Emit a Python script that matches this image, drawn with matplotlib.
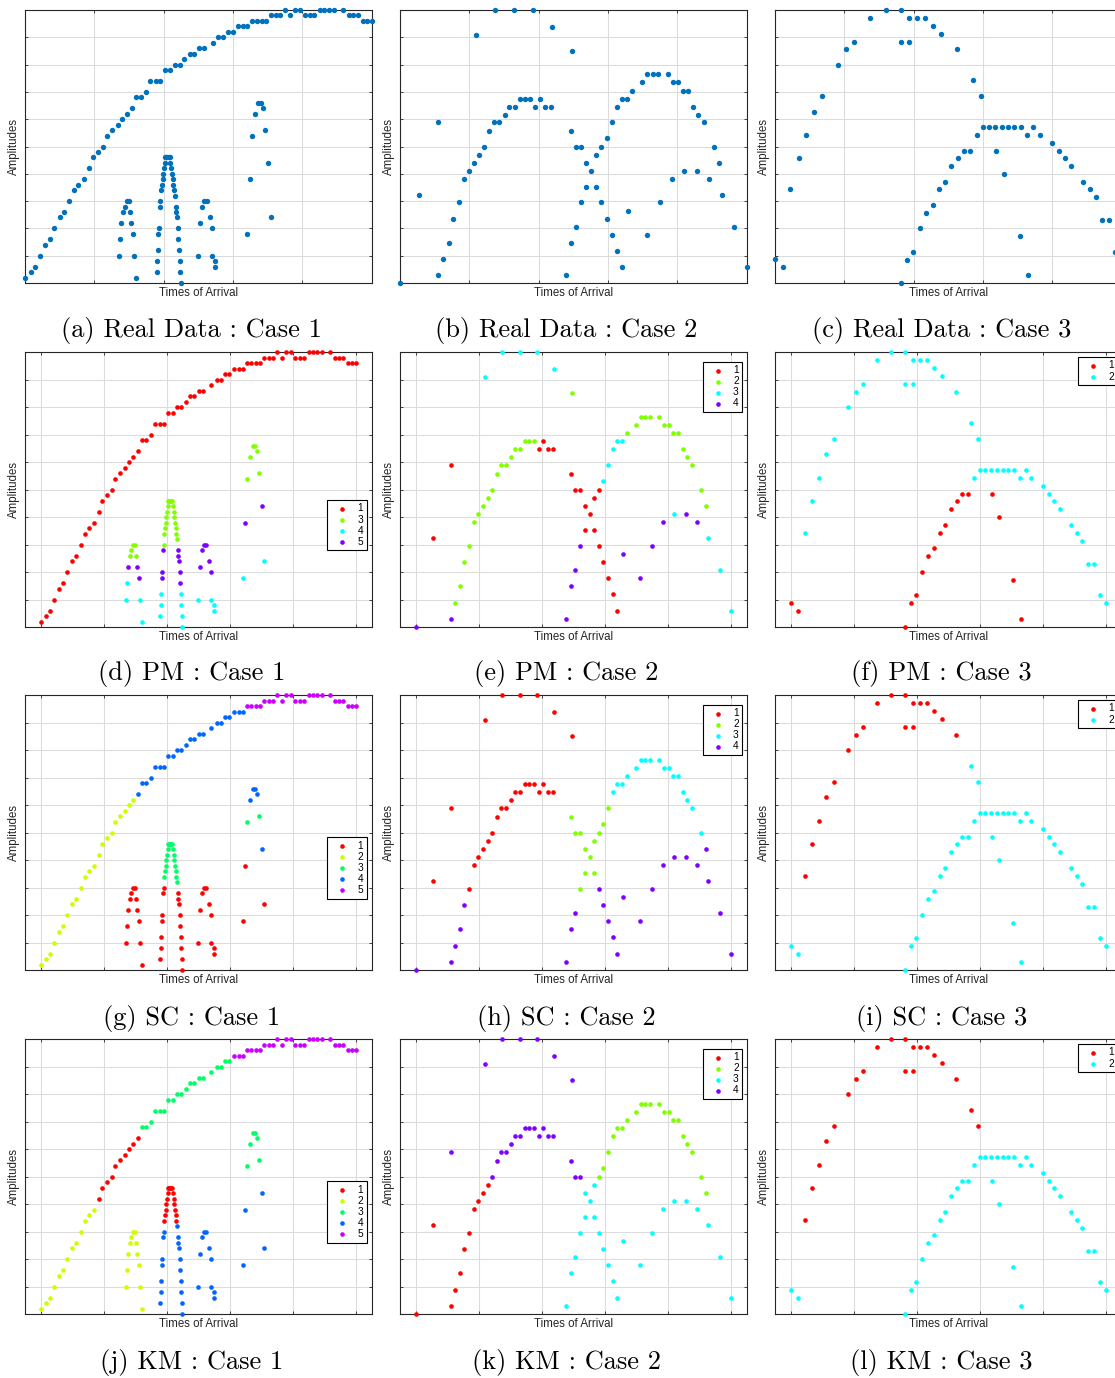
import colorsys
import matplotlib
matplotlib.use("Agg")
import matplotlib.pyplot as plt

# ---------------- data (x: times of arrival, y: amplitude, both in % of range) ----------------
# case 1: main arc, left group, central spike, middle group, right group
x1 = [0, 1.7, 3.0, 4.2, 5.9, 7.2, 8.4, 10.0, 11.3, 12.7, 14.2, 15.4, 16.9, 18.4, 19.6, 21.0,
      22.6, 23.7, 25.1, 26.7, 28.0, 29.3, 30.8, 32.1, 33.4, 35.0, 36.2, 37.7, 39.1, 40.5, 41.9,
      43.4, 44.6, 46.0, 47.5, 48.7, 50.1, 51.6, 54.2, 55.8, 57.1, 58.5, 59.9, 61.4, 62.8, 64.2,
      65.4, 66.9, 68.4, 69.6, 70.9, 72.4, 73.7, 75.1, 76.6, 77.8, 79.4, 80.8, 82.2, 83.5, 85.0,
      86.4, 87.8, 89.2, 91.8, 93.4, 94.6, 96.1, 97.5, 98.7, 100,
      27.0, 27.4, 27.8, 28.3, 28.8, 29.3, 29.9, 30.3, 30.7, 31.1, 31.5, 32.0,
      38.0, 38.2, 38.3, 38.4, 38.6, 38.9, 39.0, 39.2, 39.5, 39.7, 39.9, 40.1, 40.3,
      40.5, 40.8, 41.1, 41.5, 41.8,
      41.9, 42.2, 42.4, 42.6, 42.8, 43.0, 43.2, 43.6, 43.7, 43.9, 44.1, 44.2, 44.4, 44.6, 44.7, 44.9,
      49.8, 50.4, 51.2, 51.8, 52.6, 53.4, 54.1, 54.1, 54.9, 54.9,
      64.2, 64.9, 65.6, 66.5, 67.3, 68.0, 68.7, 69.4, 70.1, 70.9]
y1 = [2, 4, 6, 10, 14, 16, 20, 24, 26, 30, 34, 36, 38, 42, 46, 48, 50, 54, 56, 58, 60, 62, 64,
      68, 68, 70, 74, 74, 74, 78, 78, 80, 80, 82, 84, 84, 86, 86, 88, 90, 90, 92, 92, 94, 94, 94,
      96, 96, 96, 96, 98, 98, 98, 100, 98, 100, 100, 98, 98, 98, 100, 100, 100, 100, 100, 98, 98,
      98, 96, 96, 96,
      10, 16, 22, 26, 28, 30, 30, 26, 22, 18, 10, 2,
      4, 8, 12, 18, 20, 28, 30, 34, 36, 38, 40, 42, 44,
      46, 46, 46, 46, 46,
      44, 42, 40, 38, 36, 34, 32, 28, 26, 24, 20, 16, 12, 8, 4, 0,
      10, 22, 28, 30, 30, 24, 20, 10, 8, 6,
      18, 38, 54, 62, 66, 66, 64, 56, 44, 24]
pm1 = ("1111111111 1111111111 1111111111 1111111111 1111111111 1111111111 1111111111 1"
       " 445333335544"
       " 4445553333333 33333 3333333555554444"
       " 4555555444"
       " 4533333354")
sc1 = ("2222222222 2222222222 22 4444444444 4444444444 4444 5555555555 5555555555 55555"
       " 111111111111"
       " 1111111333333 33333 3333333111111111"
       " 1111111111"
       " 1134444341")
km1 = ("2222222222 222 1111111111 3333333333 3333333333 5555555555 5555555555 55555555"
       " 222222222222"
       " 4444444111111 11111 1111114444444444"
       " 4444444444"
       " 4433333344")

x2 = [0, 5.5, 11.1, 11.1, 12.4, 14.0, 15.4, 16.9, 18.4, 19.8, 21.3, 21.9, 22.8, 24.3, 25.7,
      27.2, 27.4, 28.7, 30.2, 31.6, 33.0, 33.1, 34.7, 36.1, 37.6, 38.4, 39.0, 40.5, 41.9, 43.5,
      43.9, 47.8, 49.4, 49.4, 49.5, 50.7, 50.7, 52.2, 52.2, 53.7, 53.7, 55.2, 56.6, 56.6, 58.1,
      58.1, 59.6, 59.6, 61.1, 61.1, 62.6, 62.6, 64.0, 64.0, 65.5, 65.9, 67.0, 69.9, 71.2, 71.4,
      72.9, 74.4, 74.9, 77.3, 78.5, 78.8, 80.3, 81.8, 82.1, 83.2, 84.7, 85.7, 86.1, 87.7, 89.2,
      90.6, 92.1, 92.8, 96.5, 100]
y2 = [0, 32.4, 58.8, 3.0, 8.8, 14.8, 23.5, 29.5, 38.2, 41.2, 44.1, 91.0, 47.0, 49.9, 55.8,
      58.8, 100, 58.8, 61.7, 64.6, 100, 64.6, 67.5, 67.5, 67.5, 100, 64.6, 67.5, 64.6, 64.6,
      93.9, 3.0, 55.8, 14.8, 85.1, 49.9, 20.6, 49.9, 29.5, 44.1, 35.3, 41.2, 47.0, 35.3, 49.9,
      29.5, 53.0, 23.5, 58.8, 17.7, 64.6, 11.9, 67.5, 5.9, 67.5, 26.4, 70.4, 73.5, 17.7, 76.4,
      76.4, 76.4, 29.5, 76.4, 38.2, 73.5, 73.5, 70.4, 41.2, 70.4, 64.6, 41.2, 61.7, 58.8, 38.2,
      49.9, 44.1, 32.4, 20.6, 5.9]
pm2 = "4114222222 2322223222 3222231111 3414214141 1111113131 3131342242 2242422232 2422422333"
sc2 = "4114444111 1111111111 1111111111 1424124222 2222242424 3434343343 3343433343 3433434444"
km2 = "1141111111 1414444444 4444444444 4343443433 3333232323 2323232232 2232322232 2322322333"

x3 = [0, 2.2, 4.4, 6.8, 9.0, 11.3, 13.6, 18.2, 20.6, 22.9, 27.3, 31.9, 36.3, 36.3, 36.3, 38.2,
      38.7, 38.7, 39.9, 41.0, 41.8, 43.2, 43.7, 45.5, 45.5, 47.3, 47.9, 49.1, 50.8, 52.5, 52.7,
      54.5, 56.4, 57.1, 58.2, 59.4, 60.1, 61.8, 63.6, 63.9, 65.4, 66.1, 67.3, 69.1, 70.7, 70.9,
      72.8, 73.0, 74.6, 76.4, 80.0, 81.9, 83.6, 85.5, 89.0, 90.9, 92.6, 94.5, 96.3, 98.1, 100]
y3 = [8.7, 5.8, 34.3, 45.7, 54.2, 62.8, 68.5, 79.9, 85.6, 88.4, 97.0, 100, 100, 88.4, 0, 8.6,
      97.0, 88.4, 11.5, 97.0, 20.0, 97.0, 25.7, 94.1, 28.6, 34.3, 91.3, 37.1, 42.8, 85.6, 45.7,
      48.5, 48.5, 74.2, 54.2, 68.5, 57.1, 57.1, 57.1, 48.5, 57.1, 40.0, 57.1, 57.1, 17.1, 57.1,
      54.2, 2.9, 57.1, 54.2, 51.4, 48.5, 45.7, 42.8, 37.1, 34.3, 31.4, 22.9, 22.9, 11.5, 8.6]
pm3 = "1122222222 2222112212 1212112112 1112222221 2122122122 2222222222 2"
sc3 = "2211111111 1111221121 2121221221 2222222222 2222222222 2222222222 2"
km3 = "2211111111 1111221121 2121221221 2221212222 2222222222 2222222222 2"

captions = [["(a) Real Data : Case 1", "(b) Real Data : Case 2", "(c) Real Data : Case 3"],
            ["(d) PM : Case 1", "(e) PM : Case 2", "(f) PM : Case 3"],
            ["(g) SC : Case 1", "(h) SC : Case 2", "(i) SC : Case 3"],
            ["(j) KM : Case 1", "(k) KM : Case 2", "(l) KM : Case 3"]]


def labels(s):
    return [int(c) for c in s.replace(" ", "")]


def hsv_colors(n):
    # same as MATLAB hsv(n)
    return [colorsys.hsv_to_rgb(k / n, 1, 1) for k in range(n)]


W, H = 1115, 1378
fig = plt.figure(figsize=(W / 100, H / 100), dpi=100)

col_left = [25, 400, 775]
ax_w = 346.5
row_top = [10, 352, 695, 1039]
row_bot = [283, 627, 970, 1314]
cap_x = [191.5, 566.5, 941.5]
cap_y = [331, 674, 1018, 1362]

sans = ["Liberation Sans", "DejaVu Sans"]
dark = "#262626"

cases = [(x1, y1), (x2, y2), (x3, y3)]
clusters = [None,
            [labels(pm1), labels(pm2), labels(pm3)],
            [labels(sc1), labels(sc2), labels(sc3)],
            [labels(km1), labels(km2), labels(km3)]]
leg_anchor = {(1, 0): (0.986, 0.462), (2, 0): (0.986, 0.482), (3, 0): (0.986, 0.482)}

for r in range(4):
    for c in range(3):
        ax_h = row_bot[r] - row_top[r]
        ax = fig.add_axes([col_left[c] / W, 1 - row_bot[r] / H, ax_w / W, ax_h / H])
        xs, ys = cases[c]
        if r == 0:
            ax.scatter(xs, ys, s=15, color="#0072BD", linewidths=0, clip_on=False, zorder=3)
            ax.set_xlim(0, 100)
        else:
            lab = clusters[r][c]
            assert len(lab) == len(xs) == len(ys)
            ids = sorted(set(lab))
            cols = hsv_colors(len(ids))
            for k, col in zip(ids, cols):
                px = [x for x, l in zip(xs, lab) if l == k]
                py = [y for y, l in zip(ys, lab) if l == k]
                ax.scatter(px, py, s=11, color=col, linewidths=0, clip_on=False,
                           zorder=3, label=str(k))
            ax.set_xlim(-5, 105)
            anchor = leg_anchor.get((r, c), (0.988, 0.964) if c == 1 else (0.988, 0.982))
            leg = ax.legend(loc="upper right", bbox_to_anchor=anchor,
                            frameon=True, fancybox=False, edgecolor="black", framealpha=1,
                            borderpad=0.35, labelspacing=0.1, handlelength=2.2,
                            handletextpad=0.4, borderaxespad=0, scatterpoints=1,
                            prop={"family": sans, "size": 7.3})
            leg.get_frame().set_linewidth(0.8)
            leg.set_zorder(5)
        ax.set_ylim(0, 100)
        ax.set_xticks(range(0, 101, 20))
        ax.set_yticks(range(0, 101, 10))
        ax.set_xticklabels([])
        ax.set_yticklabels([])
        ax.tick_params(direction="in", length=2.2, width=0.6, color=dark,
                       top=True, right=True)
        ax.grid(True, color="#dcdcdc", linewidth=0.8)
        ax.set_axisbelow(True)
        for sp in ax.spines.values():
            sp.set_color(dark)
            sp.set_linewidth(0.8)
        ax.set_xlabel("Times of Arrival", fontsize=8.3, color=dark, family=sans)
        ax.set_ylabel("Amplitudes", fontsize=8.3, color=dark, family=sans)
        ax.xaxis.set_label_coords(0.5, -4.0 / ax_h)
        ax.yaxis.set_label_coords(-5.5 / ax_w, 0.5)
        fig.text(cap_x[c] / W, 1 - cap_y[r] / H, captions[r][c], ha="center", va="center",
                 fontsize=19, family="cmr10")

fig.savefig("out.png", dpi=100)
